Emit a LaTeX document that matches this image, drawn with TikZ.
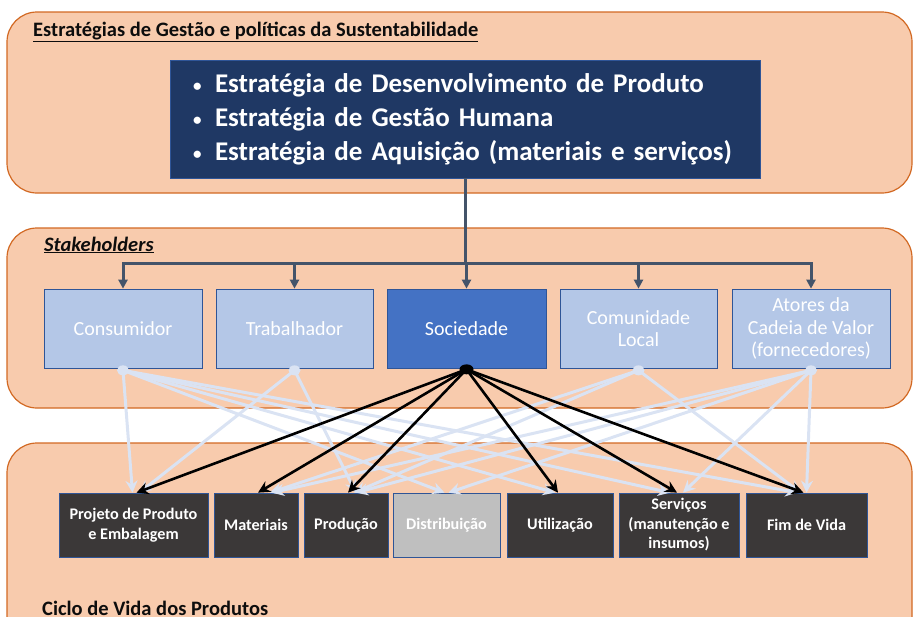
\documentclass[tikz,border=0pt]{standalone}
\usepackage{fontspec}
\setmainfont{Carlito}
\usetikzlibrary{arrows.meta,calc}

\definecolor{panelfill}{RGB}{248,203,173}
\definecolor{paneldraw}{RGB}{210,105,35}
\definecolor{navy}{RGB}{31,56,100}
\definecolor{skylight}{RGB}{180,199,231}
\definecolor{skymid}{RGB}{68,114,196}
\definecolor{boxedge}{RGB}{47,85,151}
\definecolor{darkbox}{RGB}{59,56,56}
\definecolor{greybox}{RGB}{191,191,191}
\definecolor{paleline}{RGB}{218,227,243}
\definecolor{slate}{RGB}{68,84,106}
\definecolor{titletext}{RGB}{13,13,13}

\tikzset{
  panel/.style={fill=panelfill, draw=paneldraw, line width=1.2pt, rounded corners=30pt},
  paneltitle/.style={anchor=base west, inner sep=0pt, text=titletext,
    font=\bfseries\fontsize{20.5}{24}\selectfont},
  stake/.style={draw=boxedge, line width=0.7pt, fill=skylight, text=white,
    minimum height=79pt, inner sep=0pt, align=center,
    font=\fontsize{20}{22.5}\selectfont},
  phase/.style={draw=boxedge, line width=0.7pt, fill=darkbox, text=white,
    minimum height=64pt, inner sep=0pt, align=center,
    font=\bfseries\fontsize{16.2}{19.5}\selectfont},
  branch/.style={slate, line width=3pt, -{Triangle[length=9pt,width=9pt]}},
  feed/.style={paleline, line width=3pt, -{Stealth[length=12pt,width=12pt,inset=4pt]}},
  impact/.style={black, line width=2.6pt, -{Stealth[length=12pt,width=12pt,inset=4pt]}},
}
\newcommand\stratitem{\makebox[22pt][l]{\raisebox{1pt}{\fontsize{17}{17}\selectfont\textbullet}}}

\begin{document}
\begin{tikzpicture}[x=1pt,y=-1pt]
\useasboundingbox (0,0) rectangle (913,616);
\clip (0,0) rectangle (913,616);

% three background panels
\draw[panel] (7,12) rectangle (912,193);
\draw[panel] (7,228) rectangle (912,408);
\draw[panel] (7,443) rectangle (912,660);

\node[paneltitle] (ttop) at (33,36) {\underline{Estratégias de Gestão e políticas da Sustentabilidade}};
\node[paneltitle, font=\bfseries\itshape\fontsize{20.5}{24}\selectfont] (tstake) at (44,251) {\underline{Stakeholders}};
\node[paneltitle] (tcycle) at (42,615) {Ciclo de Vida dos Produtos};

% strategy box
\node[fill=navy, draw=boxedge, line width=0.7pt, text=white, minimum width=590pt,
      minimum height=118pt, text width=544pt, align=left, inner sep=0pt,
      font=\bfseries\fontsize{27}{34}\selectfont] (strat) at (465,119)
  {\stratitem Estratégia de Desenvolvimento de Produto\\
   \stratitem Estratégia de Gestão Humana\\
   \stratitem Estratégia de Aquisição (materiais e serviços)};

% stakeholders
\node[stake, minimum width=158pt] (cons) at (123,328.5) {Consumidor};
\node[stake, minimum width=157pt] (trab) at (294.5,328.5) {Trabalhador};
\node[stake, minimum width=159pt, fill=skymid] (soc) at (466.5,328.5) {Sociedade};
\node[stake, minimum width=157pt] (comu) at (638.5,328.5) {Comunidade\\Local};
\node[stake, minimum width=158pt] (ator) at (811,328.5) {Atores da\\Cadeia de Valor\\(fornecedores)};

% branches from the strategy box
\coordinate (bar) at (466,263);
\foreach \s in {cons,trab,soc,comu,ator}
  \draw[branch] (strat.south) -- (strat.south |- bar) -| (\s.north);

% life-cycle phases
\node[phase, minimum width=149pt] (proj) at (133.5,525) {Projeto de Produto\\e Embalagem};
\node[phase, minimum width=84pt] (mat) at (256,525) {Materiais};
\node[phase, minimum width=84pt] (prod) at (346,525) {Produção};
\node[phase, minimum width=107pt, fill=greybox] (dist) at (446.5,525) {Distribuição};
\node[phase, minimum width=106pt] (util) at (560,525) {Utilização};
\node[phase, minimum width=120pt] (serv) at (679,525) {Serviços\\(manutenção e\\insumos)};
\node[phase, minimum width=121pt] (fim) at (806.5,525) {Fim de Vida};

% pale links from the other stakeholders
\foreach \s/\t/\d in {cons/proj/-1, cons/dist/-2, cons/util/-5, cons/serv/-9, cons/fim/-9,
                      trab/proj/6, trab/prod/10,
                      comu/mat/14, comu/prod/8, comu/fim/-6,
                      ator/mat/16, ator/prod/10, ator/dist/2, ator/serv/4, ator/fim/0}
  \draw[feed] ([yshift=-2pt]\s.south) -- ([xshift=\d pt]\t.north);
\foreach \s in {cons,trab,comu,ator}
  \fill[paleline] ([yshift=-2pt]\s.south) ellipse [x radius=6pt, y radius=5pt];

% society impacts on each phase
\foreach \t/\d in {proj/3, mat/2, prod/2, util/-2, serv/-2, fim/-3}
  \draw[impact] ([yshift=-1pt]soc.south) -- ([xshift=\d pt]\t.north);
\fill[black] ([yshift=-1pt]soc.south) ellipse [x radius=7pt, y radius=5pt];
\end{tikzpicture}
\end{document}
